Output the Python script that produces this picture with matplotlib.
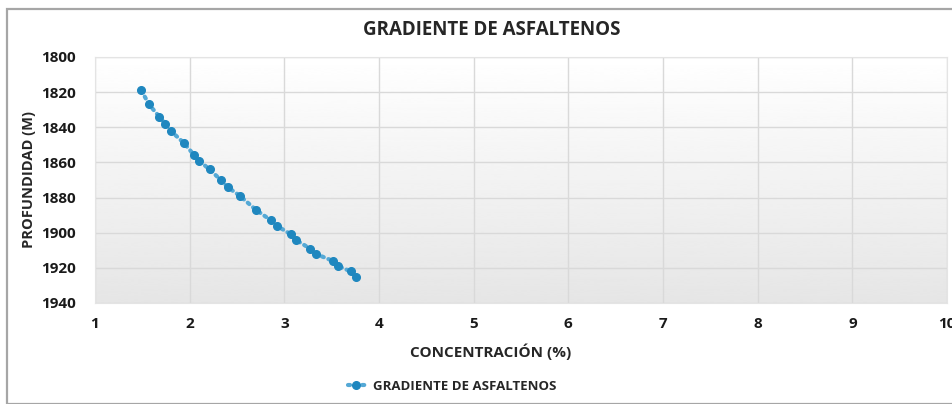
import numpy as np
from matplotlib import pyplot as plt

# Datos: concentración de asfaltenos (%) vs profundidad (m)
concentracion = [1.49, 1.57, 1.68, 1.74, 1.80, 1.94, 2.05, 2.10, 2.21, 2.33, 2.40,
                 2.53, 2.70, 2.86, 2.92, 3.07, 3.12, 3.27, 3.33, 3.51, 3.57, 3.70, 3.76]
profundidad = [1819, 1827, 1834, 1838, 1842, 1849, 1856, 1859, 1864, 1870, 1874,
               1879, 1887, 1893, 1896, 1901, 1904, 1909, 1912, 1916, 1919, 1922, 1925]

x_ticks = [1, 2, 3, 4, 5, 6, 7, 8, 9, 10]
y_ticks = [1800, 1820, 1840, 1860, 1880, 1900, 1920, 1940]

plt.rcParams['font.family'] = ['Open Sans', 'DejaVu Sans']
plt.rcParams['font.weight'] = 'bold'

fig = plt.figure(figsize=(9.53, 4.04), dpi=100)
W, H = 953, 404

# marco exterior del gráfico
fig.patches.append(plt.Rectangle((7 / W, 0.5 / H), 1.2, (403 - 8) / H, transform=fig.transFigure,
                                 fill=False, edgecolor='#a6a6a6', linewidth=1.6))

ax = fig.add_axes([95 / W, 1 - 303 / H, (947 - 95) / W, (303 - 57) / H])

# fondo degradado del área de trazado
grad = np.linspace(1.0, 0.90, 256).reshape(-1, 1)
ax.imshow(grad, extent=(1, 10, 1940, 1800), aspect='auto', cmap='gray', vmin=0, vmax=1,
          zorder=0, interpolation='bicubic')

ax.plot(concentracion, profundidad, linestyle=(0, (0.5, 1.2)), dash_capstyle='round',
        linewidth=3, color='#55a9d6', marker='o', markersize=5.5, markerfacecolor='#1f87bf',
        markeredgecolor='#1f87bf', label='GRADIENTE DE ASFALTENOS', zorder=3)

ax.set_xlim(1, 10)
ax.set_ylim(1940, 1800)
ax.set_xticks(x_ticks)
ax.set_yticks(y_ticks)
ax.grid(True, color='#d9d9d9', linewidth=1, zorder=1)
ax.set_axisbelow(True)
for s in ax.spines.values():
    s.set_color('#e4e4e4')
ax.tick_params(length=0, labelsize=11, colors='#1a1a1a', pad=14)
ax.tick_params(axis='x', pad=10)

fig.text(492 / W, 1 - 30 / H, 'GRADIENTE DE ASFALTENOS', ha='center', va='center',
         fontsize=13.5, color='#262626')
fig.text(491 / W, 1 - 352 / H, 'CONCENTRACIÓN (%)', ha='center', va='center',
         fontsize=11, color='#262626')
fig.text(29 / W, 1 - 180 / H, 'PROFUNDIDAD (M)', ha='center', va='center', rotation=90,
         fontsize=10.5, color='#262626')

leg = fig.legend(loc='center', bbox_to_anchor=(452 / W, 1 - 386 / H), frameon=False,
                 fontsize=9.5, handlelength=1.3, handletextpad=0.6)
for t in leg.get_texts():
    t.set_color('#262626')

fig.savefig('out.png', dpi=100)
